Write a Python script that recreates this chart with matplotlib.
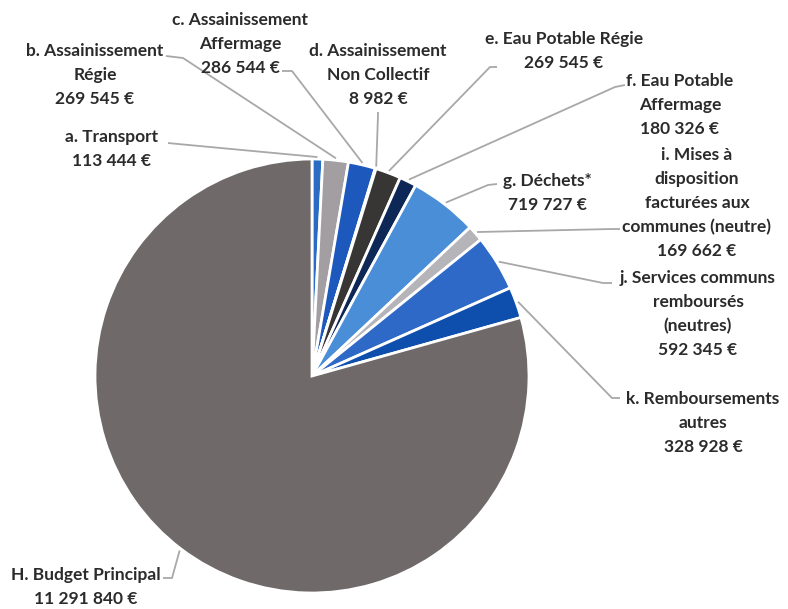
import numpy as np
import matplotlib
matplotlib.use("Agg")
import matplotlib.pyplot as plt

# Data (in EUR)
labels = [
    "a. Transport\n113 444 €",
    "b. Assainissement\nRégie\n269 545 €",
    "c. Assainissement\nAffermage\n286 544 €",
    "d. Assainissement\nNon Collectif\n8 982 €",
    "e. Eau Potable Régie\n269 545 €",
    "f. Eau Potable\nAffermage\n180 326 €",
    "g. Déchets*\n719 727 €",
    "i. Mises à\ndisposition\nfacturées aux\ncommunes (neutre)\n169 662 €",
    "j. Services communs\nremboursés\n(neutres)\n592 345 €",
    "k. Remboursements\nautres\n328 928 €",
    "H. Budget Principal\n11 291 840 €",
]
values = [113444, 269545, 286544, 8982, 269545, 180326, 719727,
          169662, 592345, 328928, 11291840]
colors = ["#2a6cc4", "#a39ea2", "#1d58bd", "#6a7fa8", "#383634", "#0d2856",
          "#4a8ed8", "#b5b5b9", "#2f69c8", "#0e4fae", "#6f6a69"]

# label block centres and leader-line start points (pixels)
label_pos = [(112, 149), (95, 75), (240, 44), (378, 75), (564, 51), (680, 105),
             (547, 193), (697, 203), (698, 314), (703, 423), (86, 587)]
line_start = [((168, 143), (178, 144)), ((166, 56), (183, 58)), ((282, 71), (292, 71)),
              ((378, 112), (378, 115)), ((497, 67), (490, 67)), ((625, 85), (615, 87)),
              ((497, 184), (488, 185)), ((620, 229), (612, 229)), ((612, 283), (603, 283)),
              ((620, 398), (612, 398)), ((163, 578), (172, 578))]

plt.rcParams['font.family'] = ['Lato', 'DejaVu Sans']

fig = plt.figure(figsize=(7.88, 6.09), dpi=100)
ax = fig.add_axes([0, 0, 1, 1])

cx, cy, r = 312, 376, 217
# y axis is inverted below, so counterclock=True reads clockwise on screen
wedges, _ = ax.pie(values, colors=colors, startangle=-90, counterclock=True,
                   center=(cx, cy), radius=r,
                   wedgeprops=dict(edgecolor="white", linewidth=2))

for w, lab, (tx, ty), (p0, p1) in zip(wedges, labels, label_pos, line_start):
    mid = np.deg2rad((w.theta1 + w.theta2) / 2)
    ex, ey = cx + (r + 2) * np.cos(mid), cy + (r + 2) * np.sin(mid)
    ax.plot([p0[0], p1[0], ex], [p0[1], p1[1], ey], color="#a8a8a8", lw=1.3,
            solid_capstyle="butt")
    ax.text(tx, ty, lab, ha="center", va="center", fontsize=12.5, fontweight="bold",
            color="#2b2b2b", linespacing=1.6)

ax.set_xlim(0, 788)
ax.set_ylim(609, 0)
ax.set_aspect("equal")
ax.axis("off")

fig.savefig("out.png", dpi=100, facecolor="white")
